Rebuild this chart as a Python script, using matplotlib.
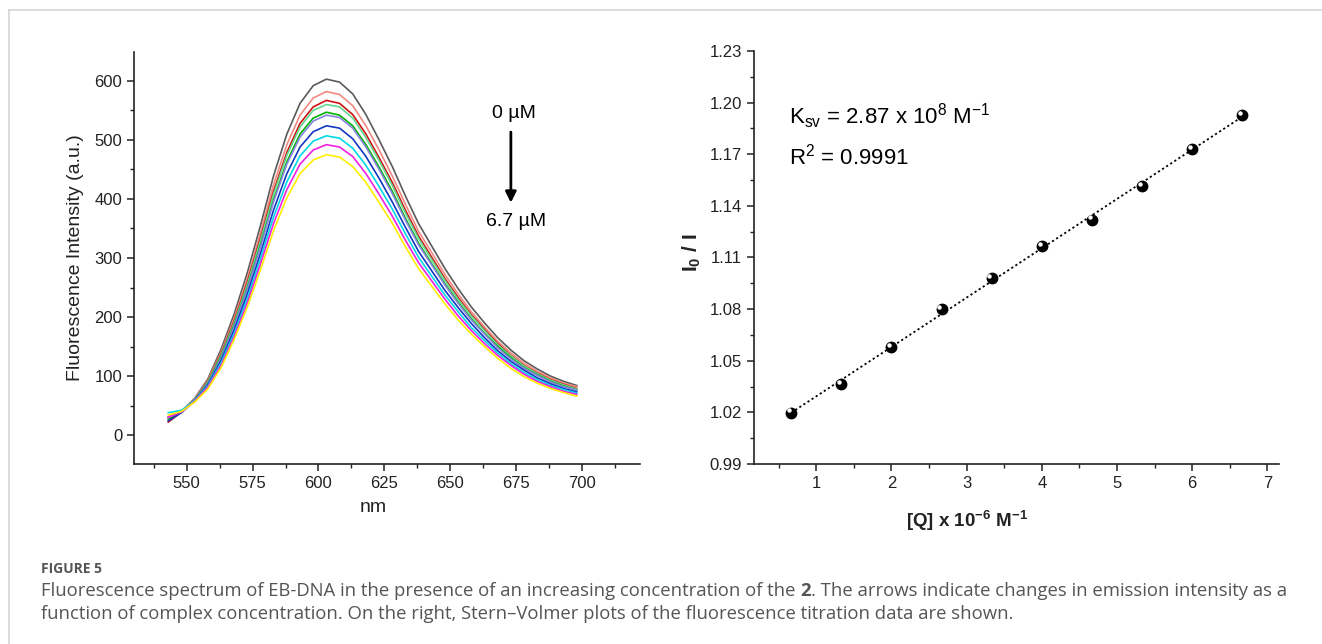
import numpy as np
import matplotlib
matplotlib.use("Agg")
import matplotlib.pyplot as plt
import matplotlib.transforms as mtransforms
from matplotlib.lines import Line2D
from matplotlib.ticker import MultipleLocator

plt.rcParams["font.family"] = ["Liberation Sans", "DejaVu Sans"]
plt.rcParams["mathtext.fontset"] = "custom"
plt.rcParams["mathtext.rm"] = "Liberation Sans"
plt.rcParams["mathtext.it"] = "Liberation Sans:italic"
plt.rcParams["mathtext.bf"] = "Liberation Sans:bold"

# emission spectra (nm, a.u.), 0 -> 6.7 uM
wavelength = [543, 548, 553, 558, 563, 568, 573, 578, 583, 588, 593, 598, 603, 608, 613, 618,
              623, 628, 633, 638, 643, 648, 653, 658, 663, 668, 673, 678, 683, 688, 693, 698]
spec_gray = [30, 40, 62, 95, 145, 205, 275, 355, 440, 510, 562, 592, 603, 598, 578, 543,
             500, 455, 405, 358, 320, 282, 248, 217, 190, 165, 144, 126, 112, 100, 91, 84]
spec_salmon = [31, 40, 61, 93, 140, 198, 265, 343, 425, 492, 542, 571, 582, 577, 558, 524,
               483, 439, 391, 345, 309, 272, 239, 209, 183, 159, 139, 122, 108, 97, 88, 82]
spec_red = [22, 39, 60, 91, 137, 193, 259, 334, 414, 479, 528, 556, 567, 562, 543, 510,
            470, 428, 381, 337, 301, 265, 233, 204, 179, 155, 135, 118, 105, 94, 86, 79]
spec_lightgreen = [28, 39, 60, 90, 135, 190, 255, 330, 409, 474, 522, 550, 560, 556, 537, 504,
                   465, 423, 376, 333, 297, 262, 230, 202, 177, 153, 134, 117, 104, 93, 85, 78]
spec_green = [26, 39, 59, 88, 132, 186, 249, 322, 399, 463, 510, 537, 547, 542, 524, 492,
              454, 413, 367, 325, 290, 256, 225, 197, 172, 150, 131, 114, 102, 91, 83, 76]
spec_lavender = [30, 40, 59, 87, 130, 184, 247, 319, 396, 459, 505, 532, 542, 538, 520, 488,
                 450, 409, 364, 322, 288, 254, 223, 195, 171, 148, 129, 113, 101, 90, 82, 76]
spec_blue = [24, 38, 58, 85, 126, 178, 239, 308, 382, 443, 488, 514, 524, 520, 502, 472,
             435, 395, 352, 311, 278, 245, 216, 189, 165, 143, 125, 110, 97, 87, 79, 73]
spec_cyan = [38, 42, 58, 83, 122, 172, 231, 299, 370, 429, 473, 498, 507, 503, 486, 457,
             421, 383, 341, 301, 269, 237, 209, 182, 160, 139, 121, 106, 94, 84, 77, 71]
spec_magenta = [30, 39, 57, 81, 118, 167, 224, 290, 359, 416, 459, 483, 492, 488, 472, 443,
                408, 371, 330, 292, 261, 230, 202, 177, 155, 135, 118, 103, 91, 82, 74, 69]
spec_yellow = [34, 40, 56, 78, 114, 162, 217, 280, 347, 402, 443, 466, 475, 471, 455, 428,
               394, 359, 319, 282, 252, 222, 195, 171, 150, 130, 113, 99, 88, 79, 72, 66]

spectra = [spec_gray, spec_salmon, spec_red, spec_lightgreen, spec_green,
           spec_lavender, spec_blue, spec_cyan, spec_magenta, spec_yellow]
spec_colors = ["#5a5a5a", "#f08a80", "#d01010", "#5fd890", "#00b400",
               "#8a84e0", "#1238c0", "#00d8e6", "#f020e0", "#ffee00"]

# Stern-Volmer data
conc = [0.667, 1.333, 2.0, 2.667, 3.333, 4.0, 4.667, 5.333, 6.0, 6.667]
i0_over_i = [1.0198, 1.0365, 1.0578, 1.0802, 1.0981, 1.1165, 1.1320, 1.1515, 1.1729, 1.1928]

W, H = 1322, 644
fig = plt.figure(figsize=(W / 100, H / 100), dpi=100)


def fx(px):
    return px / W


def fy(py):
    return 1 - py / H


def style_axis(ax):
    for s in ["top", "right"]:
        ax.spines[s].set_visible(False)
    for s in ["left", "bottom"]:
        ax.spines[s].set_linewidth(1.2)
        ax.spines[s].set_color("#222222")
    ax.tick_params(which="major", direction="out", length=5, width=1.1,
                   labelsize=12, colors="#222222")
    ax.tick_params(which="minor", direction="out", length=3, width=1.0, colors="#222222")


# left panel: spectra
ax1 = fig.add_axes([fx(134), fy(464), fx(640) - fx(134), fy(52) - fy(464)])
for y, c in zip(spectra, spec_colors):
    ax1.plot(wavelength, y, color=c, lw=1.2)
ax1.set_xlim(530, 722)
ax1.set_ylim(-49, 649)
ax1.xaxis.set_major_locator(MultipleLocator(25))
ax1.xaxis.set_minor_locator(MultipleLocator(12.5))
ax1.set_yticks([0, 100, 200, 300, 400, 500, 600])
ax1.yaxis.set_minor_locator(MultipleLocator(50))
style_axis(ax1)

ax1.text(674, 545, "0 µM", fontsize=14, ha="center", va="center")
ax1.text(675, 361, "6.7 µM", fontsize=14, ha="center", va="center")
ax1.annotate("", xy=(673, 389), xytext=(673, 518),
             arrowprops=dict(arrowstyle="-|>", lw=2.0, color="black", mutation_scale=16))

fig.text(fx(75), fy(258), "Fluorescence Intensity (a.u.)", rotation=90,
         ha="center", va="center", fontsize=14, color="#222222")
fig.text(fx(373), fy(508), "nm", ha="center", va="center", fontsize=14, color="#222222")

# right panel: Stern-Volmer
ax2 = fig.add_axes([fx(753.5), fy(464), fx(1279.4) - fx(753.5), fy(51) - fy(464)])
k, b = np.polyfit(conc, i0_over_i, 1)
xs = np.array([conc[0], conc[-1]])
ax2.plot(xs, k * xs + b, color="black", lw=1.3, ls=(0, (1.2, 1.5)))
ax2.plot(conc, i0_over_i, "o", color="black", ms=7.5, zorder=3)
hl = ax2.transData + mtransforms.ScaledTranslation(-1.6 / 72, 1.6 / 72, fig.dpi_scale_trans)
ax2.plot(conc, i0_over_i, "o", color="white", ms=2.2, transform=hl, zorder=4)
ax2.set_xlim(0.165, 7.16)
ax2.set_ylim(0.99, 1.23)
ax2.set_xticks([1, 2, 3, 4, 5, 6, 7])
ax2.xaxis.set_minor_locator(MultipleLocator(0.5))
ax2.set_yticks([0.99, 1.02, 1.05, 1.08, 1.11, 1.14, 1.17, 1.20, 1.23])
ax2.set_yticklabels(["0.99", "1.02", "1.05", "1.08", "1.11", "1.14", "1.17", "1.20", "1.23"])
ax2.yaxis.set_minor_locator(MultipleLocator(0.015))
style_axis(ax2)

ax2.text(0.637, 1.1876, r"K$_{\mathrm{sv}}$ = 2.87 x 10$^{8}$ M$^{\mathrm{-1}}$",
         fontsize=16, ha="left", va="baseline")
ax2.text(0.637, 1.1638, r"R$^{2}$ = 0.9991", fontsize=16, ha="left", va="baseline")

fig.text(fx(692), fy(253), r"I$_{\mathbf{0}}$ / I", rotation=90, ha="center", va="center",
         fontsize=15, fontweight="bold", color="#222222")
fig.text(fx(967), fy(521), r"[Q] x 10$^{\mathbf{-6}}$ M$^{\mathbf{-1}}$", ha="center",
         va="center", fontsize=13.5, fontweight="bold", color="#222222")

# frame lines
fig.add_artist(Line2D([fx(9), 1], [fy(9.5), fy(9.5)], color="#d4d4d4", lw=1.2))
fig.add_artist(Line2D([fx(9), fx(9)], [fy(9.5), 0], color="#d4d4d4", lw=1.2))

# caption
cap_font = ["Open Sans", "DejaVu Sans"]
cap_size = 13.3
fig.text(fx(41), fy(569), "FIGURE 5", ha="left", va="center", fontsize=10,
         fontweight="bold", color="#555555", family=cap_font)
t1 = fig.text(fx(41), fy(596), "Fluorescence spectrum of EB-DNA in the presence of an "
              "increasing concentration of the ", ha="left", va="baseline",
              fontsize=cap_size, color="#555555", family=cap_font)
t2 = ax1.annotate("2", xy=(1, 0), xycoords=t1, ha="left", va="bottom", fontsize=cap_size,
                  fontweight="bold", color="#555555", family=cap_font, annotation_clip=False)
ax1.annotate(". The arrows indicate changes in emission intensity as a", xy=(1, 0),
             xycoords=t2, ha="left", va="bottom", fontsize=cap_size, color="#555555",
             family=cap_font, annotation_clip=False)
fig.text(fx(41), fy(619), "function of complex concentration. On the right, Stern\u2013Volmer "
         "plots of the fluorescence titration data are shown.", ha="left", va="baseline",
         fontsize=cap_size, color="#555555", family=cap_font)

fig.savefig("out.png", dpi=100)
